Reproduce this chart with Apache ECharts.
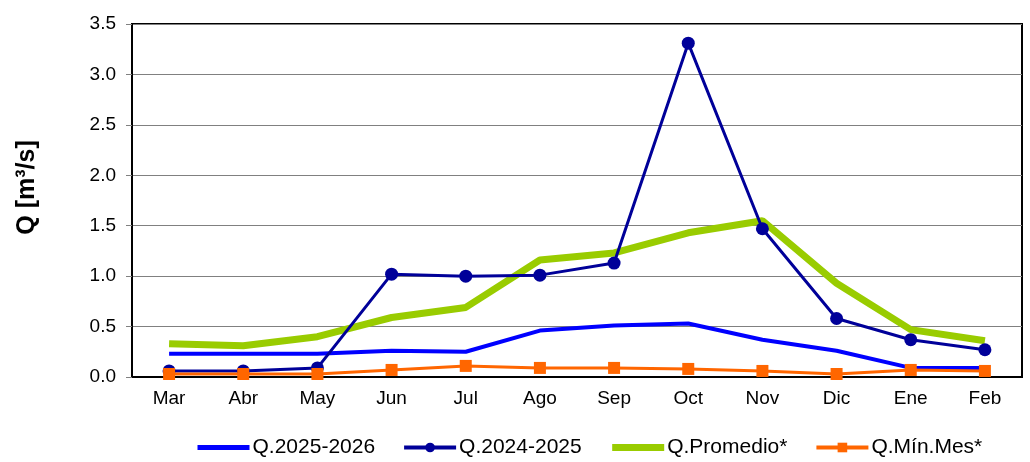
<!DOCTYPE html>
<html><head><meta charset="utf-8">
<script src="https://cdn.jsdelivr.net/npm/echarts@6/dist/echarts.min.js"></script>
<style>html,body{margin:0;padding:0;background:#fff}#c{width:1030px;height:462px}</style>
</head><body><div id="c"></div>
<script>
const categories = ['Mar','Abr','May','Jun','Jul','Ago','Sep','Oct','Nov','Dic','Ene','Feb'];
const q2025_2026 = [0.23,0.23,0.23,0.26,0.25,0.46,0.51,0.53,0.37,0.26,0.09,0.09];
const q2024_2025 = [0.06,0.06,0.09,1.02,1.00,1.01,1.13,3.31,1.47,0.58,0.37,0.27];
const qPromedio = [0.33,0.31,0.40,0.59,0.69,1.16,1.23,1.43,1.55,0.93,0.47,0.36];
const qMinMes = [0.03,0.03,0.03,0.07,0.11,0.09,0.09,0.08,0.06,0.03,0.07,0.06];
const names = ['Q.2025-2026','Q.2024-2025','Q.Promedio*','Q.Mín.Mes*'];
const font = 'Liberation Sans, Arial, sans-serif';
const chart = echarts.init(document.getElementById('c'));
chart.setOption({
  animation:false,
  textStyle:{fontFamily:font},
  grid:{left:132,right:8,top:24,bottom:85,show:true,borderColor:'#000',borderWidth:2,containLabel:false},
  legend:{top:432,left:190,itemGap:27,itemWidth:52,itemHeight:12,
    textStyle:{fontSize:21,color:'#000',fontFamily:font,padding:[0,0,0,-2]},
    data:[
      {name:names[0],itemStyle:{opacity:0},lineStyle:{width:5,color:'#0000FF'}},
      {name:names[1],lineStyle:{width:4,color:'#000099'}},
      {name:names[2],itemStyle:{opacity:0},lineStyle:{width:7,color:'#99CC00'}},
      {name:names[3],lineStyle:{width:4,color:'#FF6600'}}
    ]},
  xAxis:{type:'category',data:categories,boundaryGap:true,
    axisLine:{lineStyle:{color:'#000',width:2}},
    axisTick:{inside:true,length:6,lineStyle:{color:'#000',width:2}},
    axisLabel:{fontSize:19,color:'#000',margin:12,fontFamily:font}},
  yAxis:{type:'value',min:0,max:3.5,interval:0.5,
    name:'Q [m³/s]',nameLocation:'middle',nameGap:92,
    nameTextStyle:{fontSize:25,fontWeight:'bold',color:'#000',fontFamily:font,padding:[0,0,0,26]},
    axisLine:{show:true,lineStyle:{color:'#000',width:2}},
    axisTick:{show:true,length:6,lineStyle:{color:'#808080'}},
    axisLabel:{fontSize:19,color:'#000',margin:16,formatter:v=>v.toFixed(1),fontFamily:font},
    splitLine:{lineStyle:{color:'#808080',width:1}}},
  series:[
    {name:names[0],type:'line',data:q2025_2026,symbol:'none',lineStyle:{color:'#0000FF',width:4},itemStyle:{color:'#0000FF'},z:3},
    {name:names[1],type:'line',data:q2024_2025,symbol:'circle',symbolSize:13,showSymbol:true,lineStyle:{color:'#000099',width:3},itemStyle:{color:'#000099'},z:4},
    {name:names[2],type:'line',data:qPromedio,symbol:'none',lineStyle:{color:'#99CC00',width:7},itemStyle:{color:'#99CC00'},z:2},
    {name:names[3],type:'line',data:qMinMes,symbol:'rect',symbolSize:12,lineStyle:{color:'#FF6600',width:3},itemStyle:{color:'#FF6600'},z:5}
  ]
});
</script></body></html>
